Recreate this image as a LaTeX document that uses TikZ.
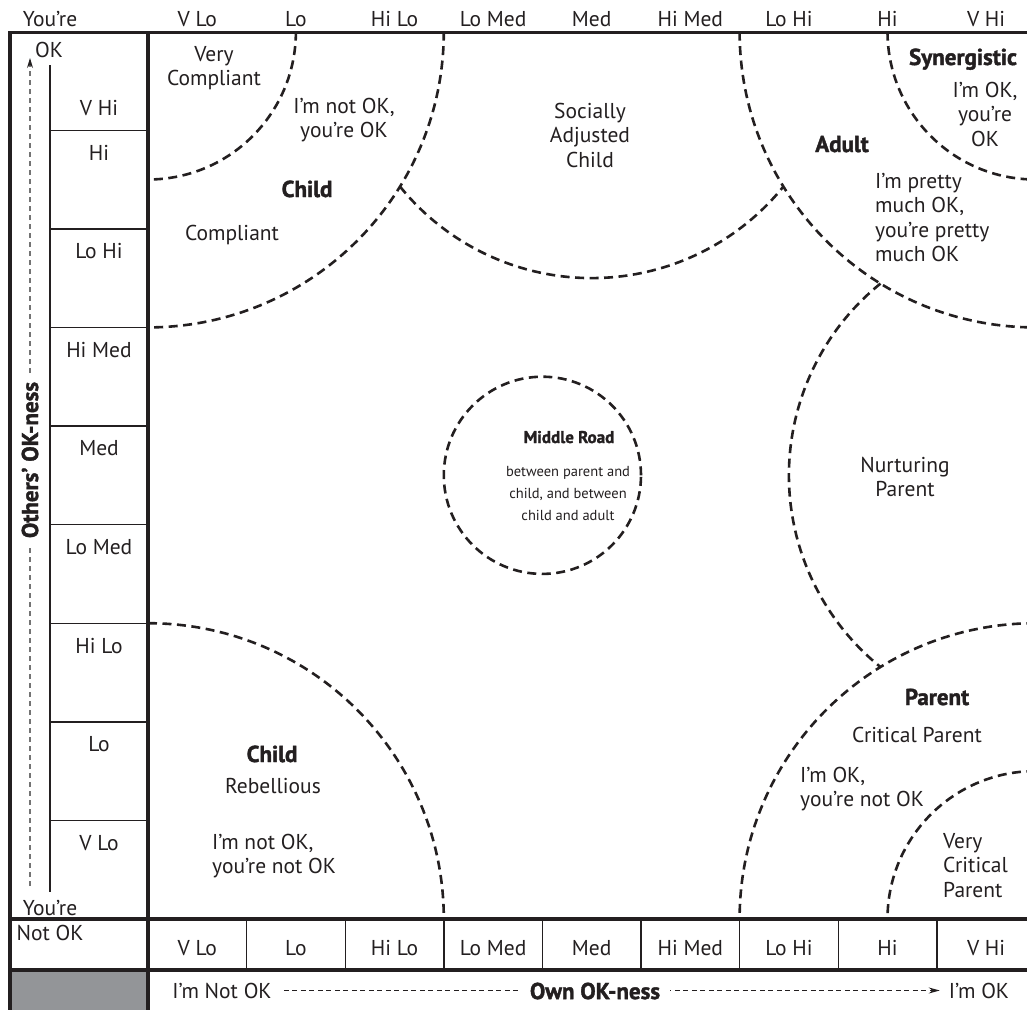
\documentclass[tikz,border=0pt]{standalone}
\usepackage{fontspec}
\setmainfont{PT Sans}
\newfontfamily\heavy{PT Sans Bold}[FakeBold=1.6]
\usetikzlibrary{arrows.meta}
\definecolor{boxgray}{HTML}{939598}
\definecolor{ink}{HTML}{231F20}
\tikzset{
  txt/.style={font=\fontsize{21.5}{24.5}\selectfont, inner sep=0pt, anchor=base, text=ink},
  hd/.style={font=\fontsize{23}{26}\selectfont\heavy, inner sep=0pt, anchor=base, text=ink},
  smallhd/.style={font=\fontsize{17}{20}\selectfont\heavy, inner sep=0pt, anchor=base, text=ink},
  smalltxt/.style={font=\fontsize{14.5}{22}\selectfont, inner sep=0pt, anchor=base, align=center, text=ink},
  frameline/.style={line width=3.5pt, draw=ink},
  gridline/.style={line width=1.4pt, draw=ink},
  zone/.style={line width=2.6pt, draw=ink, dash pattern=on 9pt off 5.5pt},
  axisy/.style={line width=1.2pt, draw=black!55, dash pattern=on 5pt off 4pt, -{Stealth[length=10pt,width=6pt,color=ink]}},
  axisx/.style={line width=1.1pt, draw=ink, dash pattern=on 5pt off 3.5pt, -{Stealth[length=11pt,width=6pt]}},
}
\begin{document}
\begin{tikzpicture}[x=1pt,y=-1pt]
\useasboundingbox (0,0) rectangle (1027,1009);
\clip (0,0) rectangle (1027,1009);
% frame
\fill[boxgray] (10,970) rectangle (148,1012);
\draw[frameline] (10,1012) -- (10,32.5) -- (1030,32.5);
\draw[frameline] (148,32.5) -- (148,1012);
\draw[frameline] (10,919) -- (1030,919);
\draw[frameline] (10,970) -- (1030,970);
\draw[gridline] (50,65) -- (50,892);
\foreach \k in {1,...,8} {
  \draw[gridline] (50,{919-\k*98.6}) -- (148,{919-\k*98.6});
  \draw[gridline] ({148+\k*98.6},919) -- ({148+\k*98.6},970);
}
% zones
\begin{scope}[shift={(148,919)}, x=98.6pt, y=98.6pt]
  \draw[zone] (1.5,9) arc[start angle=0, end angle=-90, radius=1.5];
  \draw[zone] (3,9) arc[start angle=0, end angle=-90, radius=3];
  \draw[zone] (4.5,9) ++(218.94:2.5) arc[start angle=218.94, end angle=321.06, radius=2.5];
  \draw[zone] (6,9) arc[start angle=180, end angle=270, radius=3];
  \draw[zone] (7.5,9) arc[start angle=180, end angle=270, radius=1.5];
  \draw[zone] (9,4.5) ++(128.94:2.5) arc[start angle=128.94, end angle=231.06, radius=2.5];
  \draw[zone] (9,3) arc[start angle=90, end angle=180, radius=3];
  \draw[zone] (9,1.5) arc[start angle=90, end angle=180, radius=1.5];
  \draw[zone] (0,3) arc[start angle=90, end angle=0, radius=3];
  \draw[zone] (4,4.5) circle[radius=1];
\end{scope}
% top and bottom scales
\node[txt] (youreTop) at (50,26) {You’re};
\foreach \t [count=\i from 0] in {V Lo, Lo, Hi Lo, Lo Med, Med, Hi Med, Lo Hi, Hi, V Hi} {
  \node[txt, name=top\i] at ({197.3+\i*98.6},26) {\t};
  \node[txt, name=bot\i] at ({197.3+\i*98.6},955) {\t};
}
% left scale
\node[txt] (okTop) at (49,57) {OK};
\node[txt] (lvhi) at (99,115) {V Hi};
\foreach \t [count=\i from 1] in {Hi, Lo Hi, Hi Med, Med, Lo Med, Hi Lo, Lo, V Lo} {
  \node[txt, name=left\i] at (99,{32.4+\i*98.6+29}) {\t};
}
\node[txt] (youreBot) at (50,915) {You’re};
\node[txt] (notOK) at (50,940) {Not OK};
% axes
\coordinate (ybot) at (30,886);
\coordinate (ytop) at (30,58);
\draw[axisy] (ybot) -- (ytop);
\node[hd, anchor=center, rotate=90, fill=white, inner xsep=7pt] (yax) at (30,460) {Others’ OK-ness};
\node[txt] (imnot) at (222,998) {I’m Not OK};
\node[txt] (imok) at (979,998) {I’m OK};
\draw[axisx] ([xshift=12pt]imnot.east) -- ([xshift=-9pt]imok.west);
\node[hd, anchor=center, fill=white, inner xsep=10pt] (own) at (595,991) {Own OK-ness};
% zone texts (base = baseline of last line)
\node[txt, align=center] (vcompl) at (214,85.5) {Very\\Compliant};
\node[txt, align=center] (notokok) at (344,137.5) {I’m not OK,\\you’re OK};
\node[hd] (childTop) at (307,197) {Child};
\node[txt] (compl) at (232,240) {Compliant};
\node[txt, align=center] (social) at (590,167) {Socially\\Adjusted\\Child};
\node[hd] (adult) at (842,152) {Adult};
\node[txt, align=left, anchor=base west] (pretty) at (875,261.5) {I’m pretty\\much OK,\\you’re pretty\\much OK};
\node[hd] (syn) at (963,65) {Synergistic};
\node[txt, align=center] (okok) at (985,146) {I’m OK,\\you’re\\OK};
\node[smallhd] (middle) at (569,443) {Middle Road};
\node[smalltxt] (middleTxt) at (568,520) {between parent and\\child, and between\\child and adult};
\node[txt, align=center] (nurt) at (905,496.5) {Nurturing\\Parent};
\node[hd] (parent) at (937,705) {Parent};
\node[txt] (critical) at (917,742) {Critical Parent};
\node[txt, align=left, anchor=base west] (oknot) at (800,806.5) {I’m OK,\\you’re not OK};
\node[txt, align=left, anchor=base west] (vcrit) at (943,897) {Very\\Critical\\Parent};
\node[hd] (childBot) at (272,762) {Child};
\node[txt] (rebel) at (273,793) {Rebellious};
\node[txt, align=left, anchor=base west] (notnot) at (212,873.5) {I’m not OK,\\you’re not OK};
\end{tikzpicture}
\end{document}
